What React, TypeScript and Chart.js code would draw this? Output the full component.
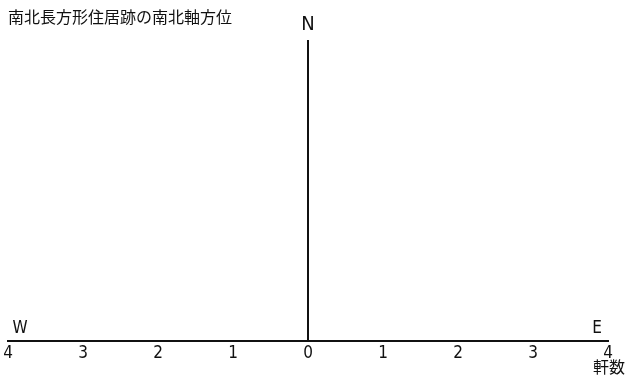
import React, { useEffect, useRef } from "react";
import { Chart, registerables } from "chart.js";

Chart.register(...registerables);

const titleText = "南北長方形住居跡の南北軸方位";
const axisTicks = [-4, -3, -2, -1, 0, 1, 2, 3, 4];
const axisTitle = "軒数";
const northLabel = "N";
const westLabel = "W";
const eastLabel = "E";
// No orientation records are plotted in the reference
const orientations: number[] = [];
const houseCounts: number[] = [];

const NARROW = '"Liberation Sans Narrow", "DejaVu Sans Condensed", "Noto Sans CJK JP", sans-serif';
const CJK = '"Noto Sans CJK JP", sans-serif';

const labelsPlugin = {
  id: "compassLabels",
  afterDraw(chart: any) {
    const { ctx, scales } = chart;
    const x = scales.x;
    ctx.save();
    ctx.fillStyle = "#111";
    ctx.textBaseline = "middle";
    ctx.textAlign = "left";
    ctx.font = `16px ${CJK}`;
    ctx.fillText(titleText, 8, 17);
    ctx.textAlign = "center";
    ctx.font = `20px ${NARROW}`;
    ctx.fillText(northLabel, x.getPixelForValue(0), 25);
    ctx.font = `17px ${NARROW}`;
    ctx.fillText(westLabel, x.getPixelForValue(-4) + 12, 329);
    ctx.fillText(eastLabel, x.getPixelForValue(4) - 11, 329);
    ctx.font = `16px ${CJK}`;
    ctx.fillText(axisTitle, x.getPixelForValue(4) + 1, 367);
    ctx.restore();
  },
};

export default function App() {
  const ref = useRef<HTMLCanvasElement | null>(null);
  useEffect(() => {
    document.body.style.margin = "0";
    const canvas = ref.current!;
    const chart = new Chart(canvas, {
      type: "bar",
      data: {
        labels: orientations,
        datasets: [
          {
            label: axisTitle,
            data: houseCounts,
            backgroundColor: "#000",
          },
        ],
      },
      options: {
        indexAxis: "y",
        animation: false,
        responsive: false,
        layout: { padding: { top: 40, left: 8, right: 27, bottom: 0 } },
        plugins: { legend: { display: false }, title: { display: false }, tooltip: { enabled: false } },
        scales: {
          x: {
            type: "linear",
            min: -4,
            max: 4,
            afterFit: (s: any) => {
              s.height = 41;
            },
            afterBuildTicks: (s: any) => {
              s.ticks = axisTicks.map((v) => ({ value: v }));
            },
            border: { display: true, color: "#111", width: 2 },
            grid: {
              display: true,
              drawOnChartArea: true,
              drawTicks: false,
              color: (c: any) => (c.tick && c.tick.value === 0 ? "#111" : "rgba(0,0,0,0)"),
              lineWidth: 2,
            },
            ticks: {
              color: "#111",
              padding: 2,
              autoSkip: false,
              maxRotation: 0,
              font: { family: NARROW, size: 17 },
              callback: (v: any) => String(Math.abs(Number(v))),
            },
          },
          y: {
            type: "linear",
            display: false,
            min: 0,
            max: 1,
          },
        },
      },
      plugins: [labelsPlugin],
    });
    return () => chart.destroy();
  }, []);
  return <canvas ref={ref} width={635} height={382} style={{ display: "block" }} />;
}
